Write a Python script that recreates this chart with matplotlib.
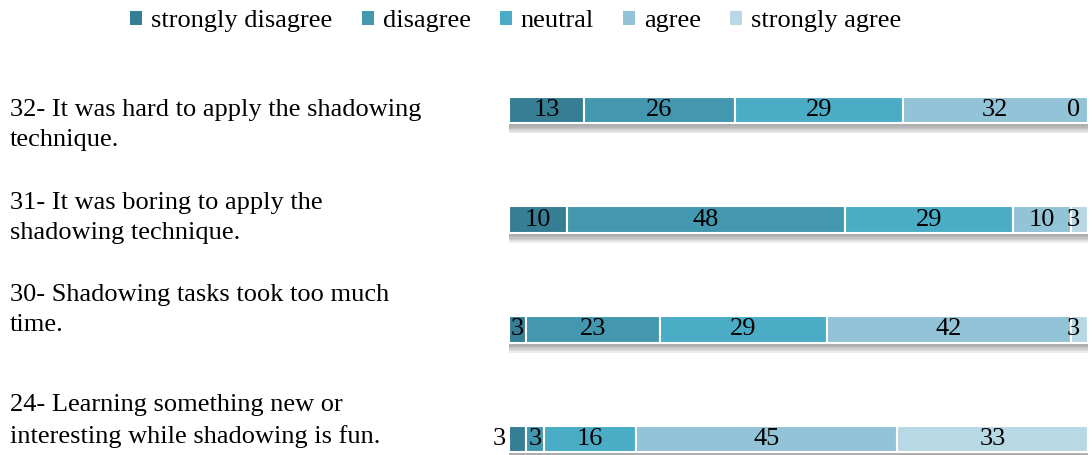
import matplotlib.pyplot as plt
import matplotlib.patheffects as pe
from matplotlib.patches import Patch

plt.rcParams['font.family'] = ['Liberation Serif', 'DejaVu Serif']

# survey items, bottom to top
items = ["24- Learning something new or\ninteresting while shadowing is fun.",
         "30- Shadowing tasks took too much\ntime.",
         "31- It was boring to apply the\nshadowing technique.",
         "32- It was hard to apply the shadowing\ntechnique."]

responses = ["strongly disagree", "disagree", "neutral", "agree", "strongly agree"]

strongly_disagree = [3, 3, 10, 13]
disagree = [3, 23, 48, 26]
neutral = [16, 29, 29, 29]
agree = [45, 42, 10, 32]
strongly_agree = [33, 3, 3, 0]

colors = ["#367e93", "#4397ae", "#4bacc6", "#92c3d6", "#b9d8e5"]

series = [strongly_disagree, disagree, neutral, agree, strongly_agree]

fig = plt.figure(figsize=(10.92, 4.55), dpi=100)
ax = fig.add_axes([509 / 1092, 0, 579 / 1092, 1])

# soft drop shadow under the bars
shadow = [pe.SimplePatchShadow(offset=(0, -d), shadow_rgbFace='#606060', alpha=0.11)
          for d in (2, 3, 4, 5, 6, 7)] + [pe.Normal()]

left = [0] * len(items)
for vals, col in zip(series, colors):
    ax.barh(range(len(items)), vals, left=left, height=0.246, color=col,
            edgecolor='white', linewidth=1.5, path_effects=shadow)
    left = [l + v for l, v in zip(left, vals)]

# value labels
for row in range(len(items)):
    start = 0
    for k, vals in enumerate(series):
        v = vals[row]
        xc = start + v / 2
        ha = 'center'
        if k == 0 and series[1][row] < 5:
            xc, ha = -0.5, 'right'
        xc = min(xc, 97.5)
        ax.text(xc, row, str(v), ha=ha, va='center', fontsize=19, color='black',
                clip_on=False)
        start += v

ax.set_xlim(0, 100)
ax.set_ylim(-0.146, 4.003)
ax.axis('off')

# item labels on the left
label_px = [421, 310, 218, 125]
for txt, py in zip(items, label_px):
    fig.text(10 / 1092, 1 - py / 455, txt, ha='left', va='center', fontsize=19,
             linespacing=1.46)

handles = [Patch(facecolor=c, edgecolor='none') for c in colors]
fig.legend(handles, responses, loc='center', bbox_to_anchor=(516 / 1092, 1 - 21 / 455),
           ncol=5, frameon=False, fontsize=19, handlelength=0.45, handleheight=0.45,
           handletextpad=0.35, columnspacing=1.1, borderpad=0)

fig.savefig('out.png', dpi=100)
